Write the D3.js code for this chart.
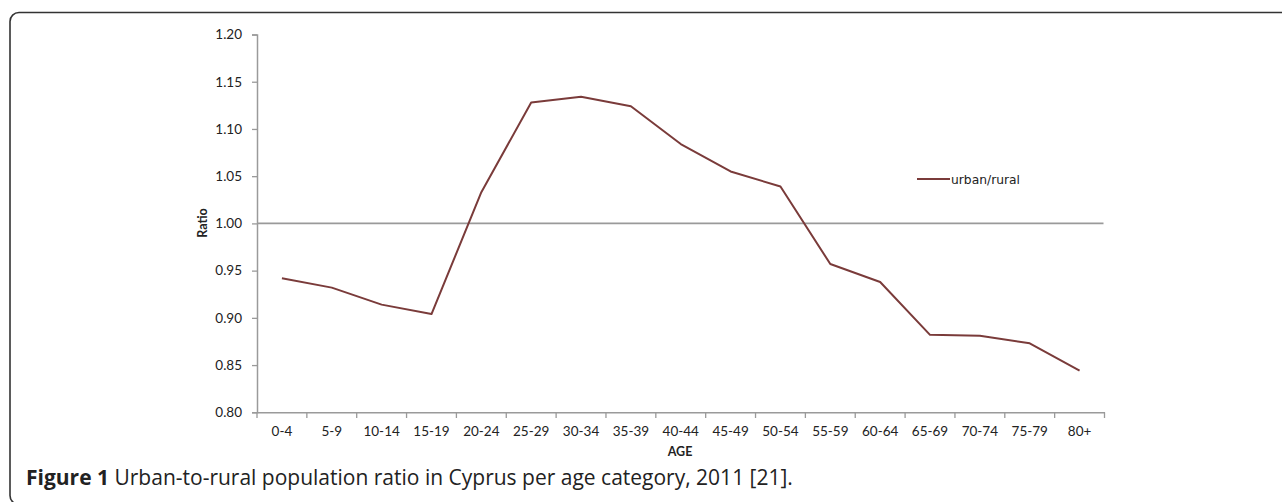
<!DOCTYPE html>
<html>
<head>
<meta charset="utf-8">
<script src="https://cdn.jsdelivr.net/npm/d3@7"></script>
<style>
  body { margin: 0; background: white; }
  svg { display: block; }
</style>
</head>
<body>
<svg id="board"></svg>
<script>
var ageGroups = ["0-4", "5-9", "10-14", "15-19", "20-24", "25-29", "30-34", "35-39",
  "40-44", "45-49", "50-54", "55-59", "60-64", "65-69", "70-74", "75-79", "80+"]
var ratios = [0.942, 0.932, 0.914, 0.904, 1.033, 1.128, 1.134, 1.124,
  1.084, 1.055, 1.039, 0.957, 0.938, 0.882, 0.881, 0.873, 0.844]
var yTicks = [0.80, 0.85, 0.90, 0.95, 1.00, 1.05, 1.10, 1.15, 1.20]
var seriesName = "urban/rural"
var captionBold = "Figure 1"
var captionText = " Urban-to-rural population ratio in Cyprus per age category, 2011 [21]."

var W = 1282, H = 502
var AXIS_GRAY = "#9a9a9a"
var LINE_COLOR = "#7a3b3a"
var TICK_FONT = "Lato, 'Open Sans', sans-serif"

var vis = d3.select("#board").attr("width", W).attr("height", H)

// frame round the figure, runs off the right and bottom edge
vis.append("rect")
  .attr("x", 10).attr("y", 12.5)
  .attr("width", 1300).attr("height", 492)
  .attr("rx", 9).attr("ry", 9)
  .attr("fill", "none")
  .attr("stroke", "#333")
  .attr("stroke-width", 1.6)

var x = d3.scaleBand().domain(ageGroups).range([257, 1104.5])
var y = d3.scaleLinear().domain([0.8, 1.2]).range([412.3, 34.5])

// y axis
var yAxis = vis.append("g")
  .attr("transform", "translate(257,0)")
  .call(d3.axisLeft(y).tickValues(yTicks).tickFormat(d3.format(".2f")).tickSizeInner(5).tickSizeOuter(5))
yAxis.select(".domain").attr("stroke", AXIS_GRAY).attr("stroke-width", 1.5)
yAxis.selectAll(".tick line").attr("stroke", AXIS_GRAY).attr("stroke-width", 1.3)
yAxis.selectAll(".tick text")
  .attr("x", -15)
  .attr("fill", "#222")
  .style("font-family", TICK_FONT)
  .style("font-size", "13.5px")

// x axis, ticks sit between categories
var xAxis = vis.append("g")
  .attr("transform", "translate(0,412.3)")
  .call(d3.axisBottom(x).tickSize(0).tickSizeOuter(0))
xAxis.select(".domain").attr("stroke", AXIS_GRAY).attr("stroke-width", 1.5)
xAxis.selectAll(".tick text")
  .attr("y", 14)
  .attr("fill", "#222")
  .style("font-family", TICK_FONT)
  .style("font-size", "13.5px")

var bounds = ageGroups.map(function(d) { return x(d) }).concat([x.range()[1]])
vis.append("g").selectAll(".xtick")
  .data(bounds)
.enter().append("line")
  .attr("class", "xtick")
  .attr("x1", function(d) { return d }).attr("x2", function(d) { return d })
  .attr("y1", 412.3).attr("y2", 418)
  .attr("stroke", AXIS_GRAY)
  .attr("stroke-width", 1.3)

// reference line at ratio 1
vis.append("line")
  .attr("x1", 257).attr("x2", x.range()[1] - 1)
  .attr("y1", y(1)).attr("y2", y(1))
  .attr("stroke", AXIS_GRAY)
  .attr("stroke-width", 1.6)

// axis titles
vis.append("text")
  .attr("x", 680).attr("y", 456)
  .attr("text-anchor", "middle")
  .attr("fill", "#222")
  .style("font-family", TICK_FONT)
  .style("font-size", "12.5px")
  .style("font-weight", "bold")
  .text("AGE")

vis.append("text")
  .attr("transform", "translate(207,223) rotate(-90)")
  .attr("text-anchor", "middle")
  .attr("fill", "#222")
  .style("font-family", TICK_FONT)
  .style("font-size", "12.5px")
  .style("font-weight", "bold")
  .text("Ratio")

// the series
var line = d3.line()
  .x(function(d, i) { return x(ageGroups[i]) + x.bandwidth() / 2 })
  .y(function(d) { return y(d) })

vis.append("path")
  .datum(ratios)
  .attr("fill", "none")
  .attr("stroke", LINE_COLOR)
  .attr("stroke-width", 2)
  .attr("stroke-linejoin", "round")
  .attr("d", line)

// legend
vis.append("line")
  .attr("x1", 917).attr("x2", 950)
  .attr("y1", 179).attr("y2", 179)
  .attr("stroke", LINE_COLOR)
  .attr("stroke-width", 2)

vis.append("text")
  .attr("x", 951).attr("y", 183.5)
  .attr("fill", "#222")
  .style("font-family", "'DejaVu Sans', Verdana, sans-serif")
  .style("font-size", "12.3px")
  .text(seriesName)

// caption
var cap = vis.append("text")
  .attr("x", 26).attr("y", 485)
  .attr("fill", "#222")
  .style("font-family", "'Open Sans', sans-serif")
  .style("font-size", "21px")
cap.append("tspan").style("font-weight", "bold").text(captionBold)
cap.append("tspan").text(captionText)
</script>
</body>
</html>
